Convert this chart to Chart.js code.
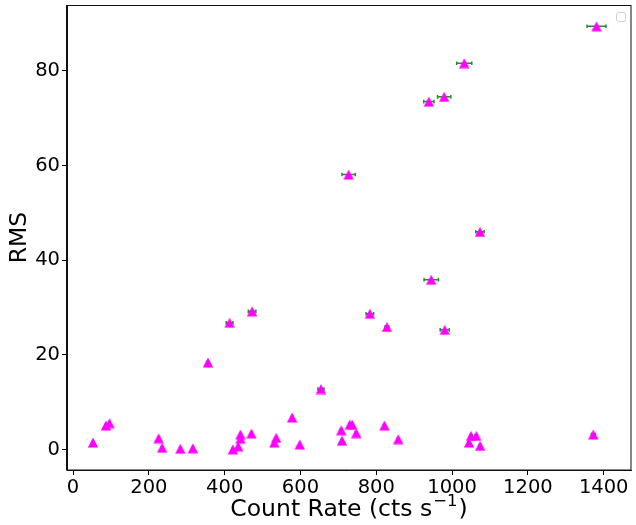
<!DOCTYPE html>
<html>
<head>
<meta charset="utf-8">
<script src="https://cdn.jsdelivr.net/npm/chart.js@4"></script>
<style>
  body { margin: 0; background: #fff; }
  #wrap { width: 636px; height: 525px; }
</style>
</head>
<body>
<div id="wrap"><canvas id="rmsChart"></canvas></div>
<script>
// count rate (cts/s), rms and the count rate error for each observation
var countRate = [52.5, 86.6, 96, 225.7, 235, 283, 316, 356, 413, 421.5, 435.7, 441.7, 441.7, 470.6,
                 472.4, 531, 536, 578, 598, 654, 707.6, 709.4, 730, 736.5, 747, 783, 821.5, 828,
                 858, 945, 980.6, 1044.6, 1050, 1064, 1074, 1372.7, 1381, 1032, 979, 938.6, 727, 1073.5];
var rms = [1.5, 5.1, 5.6, 2.4, 0.4, 0.2, 0.3, 18.4, 26.8, 0.06, 0.7, 3.2, 2.3, 3.4,
           29.2, 1.5, 2.5, 6.8, 1.1, 12.8, 4.1, 1.9, 5.3, 5.3, 3.5, 28.7, 5.1, 25.9,
           2.2, 35.9, 25.3, 1.5, 2.9, 2.9, 0.8, 3.2, 89.4, 81.6, 74.5, 73.5, 58.1, 46.0];
var rateErr = [2, 2, 2, 2, 2, 2, 2, 4, 9, 2, 2, 2, 2, 2,
               10, 2, 2, 3, 2, 8, 3, 2, 3, 3, 3, 10, 3, 5,
               3, 19, 12, 3, 3, 3, 3, 5, 25, 20, 17.5, 13.6, 17.5, 11];
var xTicks = [0, 200, 400, 600, 800, 1000, 1200, 1400];
var yTicks = [0, 20, 40, 60, 80];

var FONT = "'DejaVu Sans', sans-serif";
Chart.defaults.font.family = FONT;
Chart.defaults.color = '#000';

// filled upward triangle used as the marker
function triangleMarker(color) {
    var c = document.createElement('canvas');
    c.width = 12; c.height = 11;
    var g = c.getContext('2d');
    g.fillStyle = color;
    g.beginPath();
    g.moveTo(6, 0.5);
    g.lineTo(11.2, 10.5);
    g.lineTo(0.8, 10.5);
    g.closePath();
    g.fill();
    return c;
}

// horizontal error bars with small caps, drawn under the markers
var errorBars = {
    id: 'errorBars',
    beforeDatasetsDraw: function(chart) {
        var ctx = chart.ctx, xs = chart.scales.x, ys = chart.scales.y;
        ctx.save();
        ctx.strokeStyle = '#2a8a2a';
        ctx.lineWidth = 1.5;
        for (var i = 0; i < countRate.length; i++) {
            var x0 = xs.getPixelForValue(countRate[i] - rateErr[i]);
            var x1 = xs.getPixelForValue(countRate[i] + rateErr[i]);
            var y = ys.getPixelForValue(rms[i]);
            ctx.beginPath();
            ctx.moveTo(x0, y); ctx.lineTo(x1, y);
            ctx.moveTo(x0, y - 1.8); ctx.lineTo(x0, y + 1.8);
            ctx.moveTo(x1, y - 1.8); ctx.lineTo(x1, y + 1.8);
            ctx.stroke();
        }
        ctx.restore();
    }
};

// box around the plot, the empty legend frame, and the x title with its superscript
var frame = {
    id: 'frame',
    afterDraw: function(chart) {
        var a = chart.chartArea, ctx = chart.ctx;
        ctx.save();
        ctx.strokeStyle = '#111';
        ctx.lineWidth = 1;
        ctx.strokeRect(Math.round(a.left) - 0.5, Math.round(a.top) + 0.5,
                       Math.round(a.right - a.left) + 0.5, Math.round(a.bottom - a.top) - 0.5);
        ctx.strokeStyle = '#d0d0d0';
        ctx.fillStyle = '#fff';
        ctx.beginPath();
        ctx.roundRect(a.right - 14.5, a.top + 7.5, 9, 9, 2);
        ctx.fill();
        ctx.stroke();

        var main = 'Count Rate (cts s', sup = '\u22121', close = ')';
        var big = '23.5px ' + FONT, small = '16.5px ' + FONT;
        ctx.fillStyle = '#000';
        ctx.textBaseline = 'alphabetic';
        ctx.textAlign = 'left';
        ctx.font = big;
        var w1 = ctx.measureText(main).width, w3 = ctx.measureText(close).width;
        ctx.font = small;
        var w2 = ctx.measureText(sup).width;
        var x = (a.left + a.right) / 2 - (w1 + w2 + w3 + 2) / 2;
        var base = a.bottom + 46;
        ctx.font = big;
        ctx.fillText(main, x, base);
        ctx.font = small;
        ctx.fillText(sup, x + w1 + 1, base - 10);
        ctx.font = big;
        ctx.fillText(close, x + w1 + w2 + 2, base);
        ctx.restore();
    }
};

var points = countRate.map(function(x, i) { return { x: x, y: rms[i] }; });

new Chart(document.getElementById('rmsChart'), {
    type: 'scatter',
    data: {
        datasets: [{
            data: points,
            pointStyle: triangleMarker('#ff00ff'),
            backgroundColor: '#ff00ff',
            borderColor: '#ff00ff'
        }]
    },
    options: {
        responsive: true,
        maintainAspectRatio: false,
        animation: false,
        layout: { padding: { top: 4, right: 2, left: 0, bottom: 0 } },
        plugins: { legend: { display: false }, tooltip: { enabled: false } },
        scales: {
            x: {
                type: 'linear',
                min: -16,
                max: 1472,
                afterBuildTicks: function(scale) {
                    scale.ticks = xTicks.map(function(v) { return { value: v }; });
                },
                afterFit: function(scale) {
                    scale.height = 55;
                    scale.paddingLeft = 0;
                    scale.paddingRight = 0;
                },
                grid: { drawOnChartArea: false, drawTicks: true, tickLength: 5, color: '#000' },
                border: { display: true, color: '#111', width: 1 },
                ticks: {
                    font: { size: 19.5 }, padding: 1, maxRotation: 0,
                    callback: function(v) { return String(v); }
                }
            },
            y: {
                type: 'linear',
                min: -4.3,
                max: 93.9,
                afterBuildTicks: function(scale) {
                    scale.ticks = yTicks.map(function(v) { return { value: v }; });
                },
                afterFit: function(scale) {
                    scale.width = 67;
                    scale.paddingTop = 0;
                    scale.paddingBottom = 0;
                },
                grid: { drawOnChartArea: false, drawTicks: true, tickLength: 5, color: '#000' },
                border: { display: true, color: '#111', width: 1 },
                ticks: {
                    font: { size: 19.5 }, padding: 2,
                    callback: function(v) { return String(v); }
                },
                title: {
                    display: true,
                    text: 'RMS',
                    font: { size: 23.5 },
                    padding: { top: 6, bottom: 0 }
                }
            }
        }
    },
    plugins: [errorBars, frame]
});
</script>
</body>
</html>
